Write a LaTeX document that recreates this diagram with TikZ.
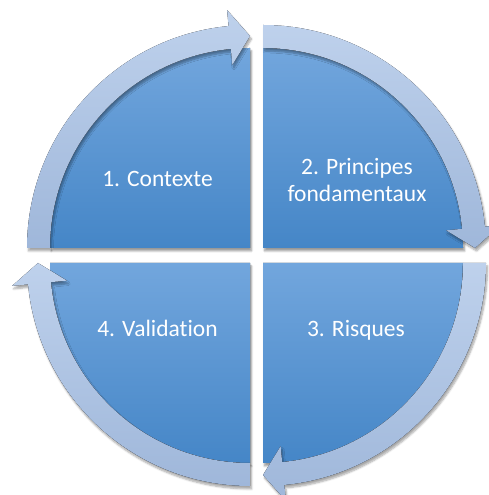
\documentclass[tikz,border=0pt]{standalone}
\usepackage{fontspec}
\setmainfont{Carlito}[Ligatures=NoCommon]
\usetikzlibrary{shadows.blur}

\definecolor{pietop}{HTML}{72A6DD}
\definecolor{piemid}{HTML}{5B9BD7}
\definecolor{piebot}{HTML}{4586C7}
\definecolor{arrtop}{HTML}{BED1EC}
\definecolor{arrbot}{HTML}{9FB7DA}

\tikzset{
  wedge/.style={top color=pietop, middle color=piemid, bottom color=piebot,
    blur shadow={shadow xshift=1.5pt, shadow yshift=-3pt, shadow opacity=40, shadow blur steps=6}},
  cyclearrow/.style={top color=arrtop, bottom color=arrbot,
    blur shadow={shadow xshift=1.5pt, shadow yshift=-3pt, shadow opacity=35, shadow blur steps=6}},
  lbl/.style={text=white, font=\fontsize{23.5}{27}\selectfont, align=center}
}

\begin{document}
\begin{tikzpicture}[x=1pt,y=1pt]
    \useasboundingbox (0,0) rectangle (489,495);

    % corners of the four quarters
    \coordinate (c1) at (250,247);
    \coordinate (c2) at (263,247);
    \coordinate (c3) at (263,232);
    \coordinate (c4) at (250,232);

    % draw quarters and their arrows
    \foreach \c/\a in {c1/90, c2/0, c3/-90, c4/180} {
      \begin{scope}[shift={(\c)}]
        \fill[wedge] (0,0) -- (\a:200) arc[start angle=\a, end angle=\a+90, radius=200] -- cycle;
        \fill[cyclearrow] (\a+90:200) arc[start angle=\a+90, end angle=\a+5.5, radius=200]
          -- (\a+5.5:184) -- (\a:212) -- (\a+5.5:239) -- (\a+5.5:223)
          arc[start angle=\a+5.5, end angle=\a+90, radius=223] -- cycle;
      \end{scope}
    }

    % draw labels
    \node[lbl, anchor=base] (ctx) at (157.5,308) {1. Contexte};
    \node[lbl] (princ) at (357,315) {2. Principes\\fondamentaux};
    \node[lbl, anchor=base] (risk) at (356,158) {3. Risques};
    \node[lbl, anchor=base] (valid) at (157.5,158) {4. Validation};
\end{tikzpicture}
\end{document}
